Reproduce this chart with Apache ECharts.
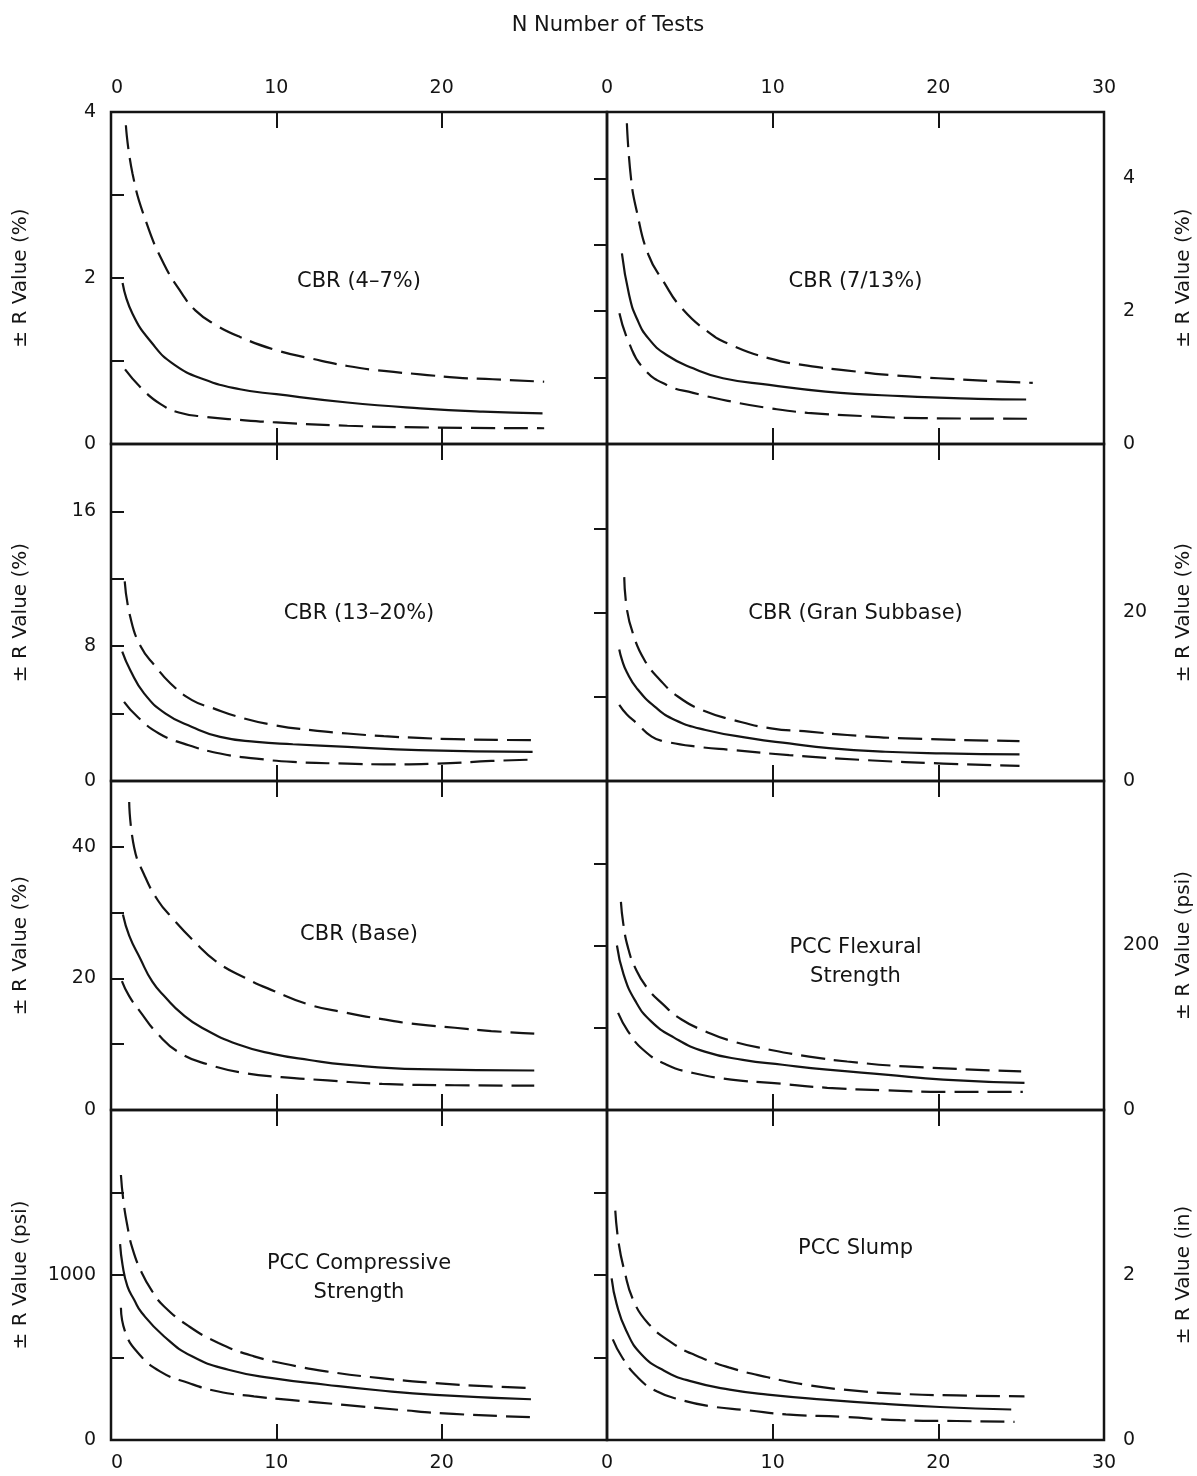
<!DOCTYPE html>
<html><head><meta charset="utf-8">
<script src="https://cdn.jsdelivr.net/npm/echarts@6/dist/echarts.min.js"></script>
<style>html,body{margin:0;padding:0;background:#fff}#c{width:1197px;height:1476px}</style>
</head><body><div id="c"></div>
<script>
// ---------- DATA ----------
const chartTitle = 'N Number of Tests';
const panelTitles = ['CBR (4–7%)', 'CBR (7/13%)', 'CBR (13–20%)', 'CBR (Gran Subbase)',
  'CBR (Base)', 'PCC Flexural\nStrength', 'PCC Compressive\nStrength', 'PCC Slump'];
const yNames = ['± R Value (%)', '± R Value (%)', '± R Value (%)', '± R Value (%)',
  '± R Value (%)', '± R Value (psi)', '± R Value (psi)', '± R Value (in)'];
const yMax = [4, 5, 20, 40, 50, 400, 2000, 4];
const yInterval = [1, 1, 4, 10, 10, 100, 500, 1];
const yLabelValues = [[0, 2, 4], [0, 2, 4], [0, 8, 16], [0, 20], [0, 20, 40], [0, 200], [0, 1000], [0, 2]];
const xLabelValues = [0, 10, 20, 30];

// CBR (4-7%)
const cbr47Upper = [[0.9,3.84],[1.3,3.26],[2.1,2.69],[3.2,2.17],[4.3,1.81],[5.1,1.61],[6.2,1.45],[7.8,1.29],[10,1.13],[12.1,1.03],[14.3,0.94],[16.5,0.88],[18.7,0.84],[20.9,0.80],[23.1,0.78],[26.2,0.75]];
const cbr47Mean  = [[0.7,1.94],[1.3,1.57],[2.5,1.21],[3.8,0.96],[5.6,0.78],[7.8,0.66],[10,0.60],[14.3,0.50],[18.7,0.43],[22.5,0.39],[26.1,0.37]];
const cbr47Lower = [[0.85,0.90],[1.9,0.66],[3.0,0.48],[4.1,0.38],[5.6,0.33],[7.8,0.29],[10,0.26],[14.3,0.22],[18.7,0.20],[26.2,0.19]];
// CBR (7/13%)
const cbr713Upper = [[1.2,4.83],[1.45,4.0],[1.8,3.5],[2.5,2.85],[3.4,2.45],[4.5,2.05],[6.1,1.69],[7.5,1.49],[9.8,1.29],[12.1,1.18],[14.4,1.11],[17,1.04],[20,0.99],[23,0.95],[25.7,0.92]];
const cbr713Mean  = [[0.9,2.87],[1.33,2.25],[1.8,1.89],[2.5,1.59],[3.6,1.34],[5.2,1.14],[7.0,0.99],[9.8,0.89],[13.2,0.79],[17.8,0.72],[22.4,0.68],[25.3,0.67]];
const cbr713Lower = [[0.75,1.97],[1.3,1.54],[2.2,1.14],[3.6,0.89],[5.2,0.77],[7.5,0.64],[9.8,0.54],[12.1,0.47],[15.5,0.42],[19,0.39],[25.4,0.38]];
// CBR (13-20%)
const cbr1320Upper = [[0.83,11.85],[1.16,9.76],[1.8,7.98],[2.7,6.79],[3.6,5.79],[4.9,4.80],[6.2,4.31],[7.7,3.81],[9.9,3.31],[12.1,3.02],[14.3,2.82],[16.5,2.66],[18.6,2.56],[20.8,2.48],[25.7,2.42]];
const cbr1320Mean  = [[0.68,7.68],[1.16,6.59],[2.0,5.2],[3.3,4.0],[4.9,3.21],[6.6,2.62],[8.8,2.32],[11,2.18],[14.3,2.02],[18.6,1.83],[25.5,1.73]];
const cbr1320Lower = [[0.79,4.70],[1.6,3.81],[2.9,2.82],[4.4,2.22],[6.6,1.63],[8.8,1.33],[11,1.13],[14.3,1.03],[16.5,0.99],[19.7,1.03],[23,1.19],[25.6,1.27]];
// CBR (Gran Subbase)
const granUpper = [[1.04,24.2],[1.2,20.4],[1.55,17.6],[2.25,14.4],[3.2,12.0],[4.3,10.0],[5.7,8.45],[7.6,7.25],[9.9,6.25],[12.2,5.86],[14.5,5.46],[18,5.06],[24.9,4.74]];
const granMean  = [[0.74,15.6],[0.9,14.4],[1.2,12.9],[1.8,11.0],[2.9,8.8],[4.1,7.25],[5.95,6.06],[8.7,5.06],[11,4.46],[13.4,3.9],[16.8,3.47],[20.3,3.27],[24.9,3.15]];
const granLower = [[0.74,9.04],[1.2,7.9],[1.8,6.85],[2.7,5.26],[3.4,4.74],[5.5,4.06],[7.6,3.67],[11,3.07],[15.7,2.47],[20.3,2.07],[24.9,1.79]];
// CBR (Base)
const baseUpper = [[1.1,46.8],[1.4,39.9],[2.0,35.8],[2.85,31.8],[3.7,29.2],[5.0,25.7],[6.35,22.6],[8.1,20.1],[9.85,18.1],[12,16.0],[14.2,14.8],[16.4,13.8],[18.6,13.0],[20.8,12.5],[23,12.0],[25.6,11.6]];
const baseMean  = [[0.72,29.7],[1.1,26.5],[1.75,23.1],[2.5,19.5],[3.3,17.1],[4.3,14.6],[5.5,12.5],[7.7,9.95],[9.85,8.5],[12,7.6],[14.2,6.9],[18.6,6.2],[25.6,6.0]];
const baseLower = [[0.66,19.6],[1.1,17.3],[1.75,15.0],[2.85,11.5],[4.15,8.7],[5.9,6.9],[8.1,5.6],[10.3,5.0],[13.1,4.5],[16.4,3.96],[20.8,3.76],[25.6,3.7]];
// PCC Flexural Strength
const flexUpper = [[0.84,253],[0.98,227],[1.26,198],[1.7,173],[2.4,149],[3.35,129],[4.5,110],[5.9,96],[7.5,84],[9.9,73],[12.2,65],[14.5,59],[18,53],[25,47]];
const flexMean  = [[0.6,200],[1.0,165],[1.7,133],[2.65,108],[4.05,88],[5.9,71],[8.2,61],[10.6,55],[13.3,49],[16.8,43],[20.3,37],[25.2,33]];
const flexLower = [[0.67,118],[1.26,96],[2.2,73],[3.6,55],[5.2,45],[7.5,37],[9.9,33],[13.3,27],[16.8,24],[20.3,22],[25.1,22]];
// PCC Compressive Strength
const compUpper = [[0.6,1606],[0.75,1450],[0.99,1298],[1.3,1160],[1.86,1014],[2.5,900],[3.2,811],[4.7,690],[6.5,588],[8.65,507],[10.8,456],[13,416],[16.3,375],[19.6,345],[22.9,325],[25.6,314]];
const compMean  = [[0.55,1187],[0.7,1060],[0.99,933],[1.4,850],[1.86,771],[3.2,629],[4.9,507],[7.1,426],[9.75,375],[13,335],[16.3,300],[19.6,274],[25.4,247]];
const compLower = [[0.6,801],[0.88,649],[1.64,527],[2.96,416],[4.7,345],[6.5,294],[8.65,264],[10.8,243],[14.1,213],[17.4,183],[20.7,158],[25.6,138]];
// PCC Slump
const slumpUpper = [[0.5,2.78],[0.7,2.39],[1.04,2.06],[1.6,1.69],[2.5,1.41],[3.9,1.18],[5.3,1.03],[7.35,0.88],[9.7,0.76],[12,0.67],[14.3,0.61],[17.7,0.56],[21.1,0.54],[25.2,0.53]];
const slumpMean  = [[0.28,1.96],[0.58,1.65],[1.15,1.33],[2.07,1.04],[3.45,0.84],[5.1,0.71],[7.4,0.61],[9.7,0.55],[13.1,0.49],[16.6,0.44],[20.1,0.40],[24.4,0.37]];
const slumpLower = [[0.35,1.22],[0.92,1.0],[1.85,0.76],[3.0,0.59],[4.4,0.49],[6.2,0.41],[8.5,0.36],[10.8,0.31],[14.3,0.28],[17.7,0.24],[21.1,0.23],[24.6,0.22]];

const panelCurves = [
  [cbr47Upper, cbr47Mean, cbr47Lower],
  [cbr713Upper, cbr713Mean, cbr713Lower],
  [cbr1320Upper, cbr1320Mean, cbr1320Lower],
  [granUpper, granMean, granLower],
  [baseUpper, baseMean, baseLower],
  [flexUpper, flexMean, flexLower],
  [compUpper, compMean, compLower],
  [slumpUpper, slumpMean, slumpLower]
];

// ---------- LAYOUT / STYLE ----------
const FONT = 'DejaVu Sans';
const INK = '#141414';
const colLeft = [111, 607], colWidth = [496, 497];
const rowTop = [112, 444, 781, 1110], rowH = [332, 337, 329, 330];
const titleY = [[280, 280], [612, 612], [933, 946], [1262, 1247]];

const grids = [], xAxes = [], yAxes = [], series = [], graphics = [];
for (let i = 0; i < 8; i++) {
  const row = Math.floor(i / 2), col = i % 2;
  grids.push({ left: colLeft[col], top: rowTop[row], width: colWidth[col], height: rowH[row],
    show: true, borderColor: INK, borderWidth: 2.5, backgroundColor: 'transparent', containLabel: false });
  const mkX = (pos, showLabels) => ({
    type: 'value', gridIndex: i, position: pos, min: 0, max: 30, interval: 10,
    axisLine: { show: false }, splitLine: { show: false },
    axisTick: { show: true, inside: true, length: 16, lineStyle: { color: INK, width: 2 } },
    axisLabel: {
      show: showLabels, margin: 14, fontFamily: FONT, fontSize: 19, color: INK,
      alignMinLabel: col === 0 ? 'left' : 'center',
      formatter: v => (xLabelValues.includes(v) && !(col === 0 && v === 30)) ? String(v) : ''
    }
  });
  xAxes.push(mkX('bottom', row === 3));
  xAxes.push(mkX('top', row === 0));
  const labs = yLabelValues[i];
  yAxes.push({
    type: 'value', gridIndex: i, position: col === 0 ? 'left' : 'right',
    min: 0, max: yMax[i], interval: yInterval[i],
    axisLine: { show: false }, splitLine: { show: false },
    axisTick: { show: true, inside: true, length: 13, lineStyle: { color: INK, width: 2 } },
    axisLabel: { margin: col === 0 ? 15 : 19, fontFamily: FONT, fontSize: 19, color: INK,
      formatter: v => labs.includes(v) ? String(v) : '' },
    name: yNames[i], nameLocation: 'middle', nameRotate: 90,
    nameGap: col === 0 ? 80 : 70,
    nameTextStyle: { fontFamily: FONT, fontSize: 20, color: INK }
  });
  const styles = [[24, 9], 'solid', [24, 9]];
  panelCurves[i].forEach((d, k) => {
    series.push({
      type: 'line', xAxisIndex: 2 * i, yAxisIndex: i, data: d,
      showSymbol: false, symbol: 'none', smooth: 0.5,
      lineStyle: { color: INK, width: 2.2, type: styles[k], cap: 'butt' },
      silent: true, animation: false, z: 3
    });
  });
  graphics.push({
    type: 'text', x: colLeft[col] + colWidth[col] / 2, y: titleY[row][col] - 13,
    style: { text: panelTitles[i], fontFamily: FONT, fontSize: 21, fill: INK,
      textAlign: 'center', textVerticalAlign: 'top', lineHeight: 29 }
  });
}

const chart = echarts.init(document.getElementById('c'), null, { renderer: 'canvas' });
chart.setOption({
  animation: false,
  backgroundColor: '#fff',
  title: { text: chartTitle, left: 603, top: 10, textAlign: 'center',
    textStyle: { fontFamily: FONT, fontSize: 21, fontWeight: 'normal', color: INK } },
  grid: grids, xAxis: xAxes, yAxis: yAxes, series: series, graphic: graphics
});
</script></body></html>
